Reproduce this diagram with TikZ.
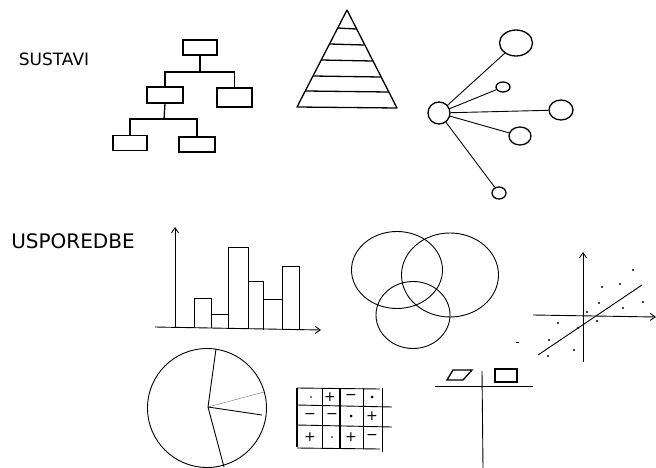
\documentclass[tikz,border=0pt]{standalone}
\usepackage{fontspec}
\setmainfont{DejaVu Sans}
\usetikzlibrary{shapes.geometric,arrows.meta}
\begin{document}
\begin{tikzpicture}[x=1pt,y=-1pt,
  ink/.style={line width=1.3pt,black},
  thin/.style={line width=0.9pt,black},
  obox/.style={draw,line width=1.4pt,inner sep=0pt,minimum width=34pt,minimum height=15pt},
  bub/.style={draw,ellipse,line width=1.3pt,inner sep=0pt},
  lbl/.style={inner sep=0pt},
  sym/.style={font=\fontsize{14}{14}\selectfont,inner sep=0pt},
  dot/.style={circle,fill=black,inner sep=0pt,minimum size=2.4pt},
  arr/.style={-{Straight Barb[length=5pt,width=7pt]}}]
\useasboundingbox (0,0) rectangle (656,468);
% labels
\node[lbl,font=\fontsize{17}{17}\selectfont] (sus) at (54,59) {SUSTAVI};
\node[lbl,font=\fontsize{20}{20}\selectfont] (usp) at (73,241) {USPOREDBE};
% org chart
\node[obox] (t) at (200,47.5) {};
\node[obox,minimum width=36pt,minimum height=16pt] (ml) at (165,95) {};
\node[obox,minimum width=35pt,minimum height=19pt] (mr) at (234.5,97.5) {};
\node[obox] (bl) at (130,143) {};
\node[obox,minimum width=36pt] (br) at (197,144.5) {};
\coordinate (j1) at (200,72);
\coordinate (j2) at (164,119);
\draw[ink] (t.south) -- (j1);
\draw[ink] (ml.north) |- (j1) -| (mr.north);
\draw[ink] (ml.south) -- (j2);
\draw[ink] (bl.north) |- (j2) -| (br.north);
% pyramid
\coordinate (pa) at (347,10);
\coordinate (pl) at (297,107);
\coordinate (pr) at (397,108);
\draw[ink,line join=round] (pa) -- (pl) -- (pr) -- cycle;
\foreach \yy in {28,44,60,76,91}{
  \draw[ink] ({347-(\yy-10)*50/97},\yy) -- ({347+(\yy-10)*50/98},{\yy+1});
}
% hub
\node[bub,circle,minimum size=22pt] (hub) at (439,113) {};
\node[bub,minimum width=33pt,minimum height=26pt] (h1) at (516,43) {};
\node[bub,minimum width=14pt,minimum height=10pt] (h2) at (503,87) {};
\node[bub,minimum width=24pt,minimum height=20pt] (h3) at (561,110) {};
\node[bub,minimum width=22pt,minimum height=18pt] (h4) at (520,136) {};
\node[bub,minimum width=14pt,minimum height=12pt] (h5) at (499,193) {};
\foreach \n in {h1,h2,h3,h4,h5}{\draw[thin] (hub) -- (\n);}
% bar chart
\coordinate (yo) at (175,328);
\coordinate (yt) at (175,227);
\coordinate (xs) at (155,327);
\coordinate (xe) at (321,330);
\draw[thin,arr] (yo) -- (yt);
\draw[thin,arr] (xs) -- (xe);
\draw[thin] (194,328) -- (194,298) -- (211,298) -- (211,328);
\draw[thin] (211,314) -- (228,314) -- (228,328);
\draw[thin] (228,314) -- (228,247) -- (248,247) -- (248,329);
\draw[thin] (248,281) -- (263,281) -- (263,330);
\draw[thin] (263,299) -- (282,299) -- (282,330);
\draw[thin] (282,299) -- (282,266) -- (299,266) -- (299,330);
% venn
\node[draw,ellipse,thin,minimum width=91pt,minimum height=77pt] (va) at (397,270) {};
\node[draw,ellipse,thin,minimum width=97pt,minimum height=84pt] (vb) at (450,275) {};
\node[draw,ellipse,thin,minimum width=74pt,minimum height=67pt] (vc) at (413,315) {};
\draw[thin] (516,342) -- (519,342);
% scatter
\coordinate (sv0) at (583,362);
\coordinate (sv1) at (583,252);
\coordinate (sh0) at (533,315);
\coordinate (sh1) at (656,317);
\coordinate (tl0) at (538,355);
\coordinate (tl1) at (642,285);
\draw[thin,arr] (sv0) -- (sv1);
\draw[thin,arr] (sh0) -- (sh1);
\draw[thin] (tl0) -- (tl1);
\foreach \p in {(633,270),(602,287),(620,284),(599,303),(643,302),(623,308),(587,312),(597,321),(558,323),(578,328),(549,340),(574,350),(548,356)}{
  \node[dot] at \p {};
}
% pie
\node[draw,circle,thin,minimum size=119pt,inner sep=0pt] (pie) at (207,408) {};
\coordinate (pc) at (208,407);
\draw[thin] (pc) -- (216,349);
\draw[line width=0.5pt,gray] (pc) -- (264,392);
\draw[thin] (pc) -- (262,415);
\draw[thin] (pc) -- (224,467);
% grid
\draw[ink] (297,388) -- (297,447);
\draw[thin] (297,388) -- (380,389);
\draw[thin] (297,448) -- (380,449);
\draw[thin] (322,388) -- (322,449);
\draw[ink] (340,388) -- (340,449);
\draw[thin] (363,388) -- (363,449);
\draw[thin] (382,388) -- (382,452);
\draw[thin] (297,405) -- (392,407);
\draw[thin] (297,425) -- (392,427);
\node[dot,minimum size=1.8pt] (g11) at (311,397) {};
\node[sym] (g12) at (330,397) {+};
\node[sym] (g13) at (351,397) {−};
\node[dot,minimum size=3pt] (g14) at (372,397) {};
\node[sym] (g21) at (310,416) {−};
\node[sym] (g22) at (332,416) {−};
\node[dot,minimum size=3pt] (g23) at (351,416) {};
\node[sym] (g24) at (372,416) {+};
\node[sym] (g31) at (310,437) {+};
\node[dot,minimum size=1.8pt] (g32) at (332,437) {};
\node[sym] (g33) at (351,437) {+};
\node[sym] (g34) at (372,437) {−};
% T chart
\coordinate (th0) at (435,386);
\coordinate (th1) at (533,386);
\coordinate (tv0) at (482,371);
\coordinate (tv1) at (483,468);
\draw[thin] (th0) -- (th1);
\draw[thin] (tv0) -- (tv1);
\draw[ink] (447,380) -- (463,380) -- (472,370) -- (453,370) -- cycle;
\draw[ink] (495,369) rectangle (517,382);
\end{tikzpicture}
\end{document}
